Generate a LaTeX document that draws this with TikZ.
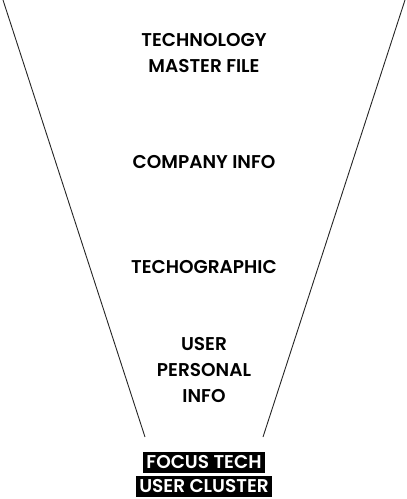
\documentclass[tikz,border=0pt]{standalone}
\usepackage{fontspec}
\setmainfont{Poppins}[UprightFont=*-SemiBold, BoldFont=*-Bold]
\usetikzlibrary{positioning}

\begin{document}
\begin{tikzpicture}[
  x=1pt, y=-1pt,
  font=\fontsize{18.5}{26}\selectfont,
  stage/.style={align=center, inner sep=0pt, text=black},
  tag/.style={fill=black, text=white, inner xsep=3pt, inner ysep=0pt,
              minimum height=21pt, font=\fontsize{18.5}{26}\selectfont},
  wall/.style={line width=0.9pt, draw=black!85},
]
\useasboundingbox (0,0) rectangle (407,499);

% ---- funnel walls ----
\coordinate (ltop) at (3,0);
\coordinate (lbot) at (145,437);
\coordinate (rtop) at (405,0);
\coordinate (rbot) at (263,437);
\draw[wall] (ltop) -- (lbot);
\draw[wall] (rtop) -- (rbot);

% ---- funnel stages ----
\node[stage] (master) at (204,53) {TECHNOLOGY\\MASTER FILE};
\node[stage] (company) at (204,162) {COMPANY INFO};
\node[stage] (techo) at (204,267) {TECHOGRAPHIC};
\node[stage] (personal) at (204,370) {USER\\PERSONAL\\INFO};

% ---- output ----
\node[tag] (focus) at (204,462) {FOCUS TECH};
\node[tag, below=3pt of focus] (cluster) {USER CLUSTER};

\end{tikzpicture}
\end{document}
